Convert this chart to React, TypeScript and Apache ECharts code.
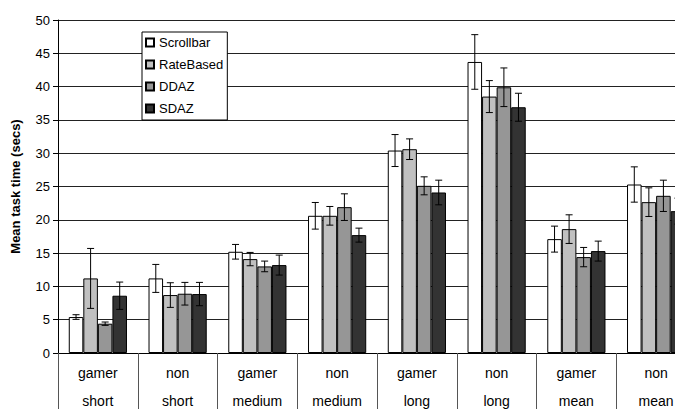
import React, { useEffect, useRef } from "react";
import * as echarts from "echarts";

const categories = [
  "gamer\nshort",
  "non\nshort",
  "gamer\nmedium",
  "non\nmedium",
  "gamer\nlong",
  "non\nlong",
  "gamer\nmean",
  "non\nmean",
];
const yTicks = { min: 0, max: 50, interval: 5 };

const seriesNames = ["Scrollbar", "RateBased", "DDAZ", "SDAZ"];
const seriesColors = ["#FFFFFF", "#C0C0C0", "#969696", "#333333"];

const scrollbar = [5.4, 11.2, 15.2, 20.6, 30.4, 43.7, 17.1, 25.3];
const scrollbarErr = [0.35, 2.1, 1.1, 2.0, 2.4, 4.1, 1.95, 2.65];
const rateBased = [11.2, 8.7, 14.1, 20.6, 30.6, 38.5, 18.6, 22.65];
const rateBasedErr = [4.5, 1.85, 1.0, 1.4, 1.55, 2.4, 2.15, 2.15];
const ddaz = [4.4, 8.9, 13.0, 21.9, 25.1, 39.9, 14.4, 23.6];
const ddazErr = [0.25, 1.7, 0.8, 2.0, 1.35, 2.9, 1.45, 2.35];
const sdaz = [8.6, 8.85, 13.2, 17.7, 24.1, 36.9, 15.3, 21.3];
const sdazErr = [2.05, 1.75, 1.5, 1.05, 1.85, 2.1, 1.5, 1.95];

const values = [scrollbar, rateBased, ddaz, sdaz];
const errors = [scrollbarErr, rateBasedErr, ddazErr, sdazErr];

const CATEGORY_GAP = 0.27;
const FONT = "'Liberation Sans', Arial, sans-serif";

export default function App() {
  const ref = useRef<HTMLDivElement>(null);

  useEffect(() => {
    document.body.style.margin = "0";
    if (!ref.current) return;
    const chart = echarts.init(ref.current, undefined, { renderer: "svg" });

    const barSeries = seriesNames.map((name, i) => ({
      name,
      type: "bar",
      data: values[i],
      barGap: "0%",
      barCategoryGap: CATEGORY_GAP * 100 + "%",
      itemStyle: { color: seriesColors[i], borderColor: "#000", borderWidth: 1 },
      z: 2,
    }));

    const errSeries = seriesNames.map((name, i) => ({
      name: name + " err",
      type: "custom",
      z: 5,
      data: values[i].map((v, k) => [k, v - errors[i][k], v + errors[i][k]]),
      renderItem: (params: any, api: any) => {
        const x = api.value(0);
        const lo = api.coord([x, api.value(1)]);
        const hi = api.coord([x, api.value(2)]);
        const band = api.size([1, 0])[0];
        const groupW = band * (1 - CATEGORY_GAP);
        const barW = groupW / seriesNames.length;
        const cx = lo[0] - groupW / 2 + barW * (i + 0.5);
        const cap = 3.5;
        const style = { stroke: "#000", lineWidth: 1 };
        return {
          type: "group",
          children: [
            { type: "line", shape: { x1: cx, y1: lo[1], x2: cx, y2: hi[1] }, style },
            { type: "line", shape: { x1: cx - cap, y1: lo[1], x2: cx + cap, y2: lo[1] }, style },
            { type: "line", shape: { x1: cx - cap, y1: hi[1], x2: cx + cap, y2: hi[1] }, style },
          ],
        };
      },
    }));

    chart.setOption({
      animation: false,
      textStyle: { fontFamily: FONT },
      grid: { left: 58, top: 20, bottom: 54, right: 0, containLabel: false },
      legend: {
        data: seriesNames,
        orient: "vertical",
        left: 142,
        top: 32,
        padding: [4, 4, 5, 3],
        itemGap: 9,
        itemWidth: 8,
        itemHeight: 8,
        backgroundColor: "#fff",
        borderColor: "#000",
        borderWidth: 1,
        borderRadius: 0,
        icon: "rect",
        textStyle: { fontSize: 13, color: "#000", fontFamily: FONT },
        selectedMode: false,
        z: 10,
      },
      xAxis: {
        type: "category",
        data: categories,
        axisLine: { lineStyle: { color: "#000", width: 1 } },
        axisTick: { show: true, length: 56, interval: 0, lineStyle: { color: "#555" } },
        axisLabel: {
          interval: 0,
          fontSize: 14,
          color: "#000",
          lineHeight: 28,
          margin: 6,
          fontFamily: FONT,
        },
        splitLine: { show: false },
      },
      yAxis: {
        type: "value",
        min: yTicks.min,
        max: yTicks.max,
        interval: yTicks.interval,
        name: "Mean task time (secs)",
        nameLocation: "middle",
        nameGap: 36,
        nameTextStyle: { fontSize: 13, fontWeight: "bold", color: "#000", fontFamily: FONT },
        axisLine: { show: true, lineStyle: { color: "#000" } },
        axisTick: { show: true, length: 5, lineStyle: { color: "#000" } },
        axisLabel: { fontSize: 13, color: "#000", margin: 8, fontFamily: FONT },
        splitLine: { show: true, lineStyle: { color: "#222", width: 1 } },
      },
      series: [...barSeries, ...errSeries],
    });

    return () => chart.dispose();
  }, []);

  return (
    <div style={{ width: 675, height: 415, overflow: "hidden", position: "relative" }}>
      <div ref={ref} style={{ width: 696, height: 415 }} />
    </div>
  );
}
